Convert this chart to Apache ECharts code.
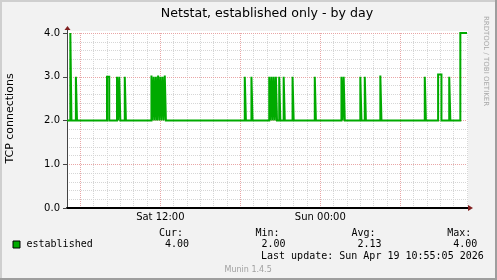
<!DOCTYPE html>
<html><head><meta charset="utf-8">
<script src="https://cdn.jsdelivr.net/npm/echarts@6/dist/echarts.min.js"></script>
<style>html,body{margin:0;padding:0;background:#F2F2F2}#c{width:497px;height:280px}</style>
</head><body><div id="c"></div>
<script>
// ---- data ----
const TITLE = 'Netstat, established only - by day';
const Y_NAME = 'TCP connections';
const SERIES_NAME = 'established';
// change points: minutes since Sat 00:00 (5-minute samples) and the value held from then on
const times = [300, 315, 320, 340, 345, 480, 490,
  525, 530, 535, 540,
  560, 565,
  680, 685, 690, 695, 700, 705, 710, 715, 720, 725, 730, 735, 740, 745,
  1100, 1105, 1130, 1135,
  1210, 1215, 1220, 1225, 1230, 1235, 1240, 1245,
  1255, 1260, 1275, 1280, 1315, 1320, 1415, 1420,
  1535, 1540, 1545, 1550,
  1620, 1625, 1640, 1645, 1710, 1715,
  1910, 1915, 1970, 1985, 2020, 2025, 2070, 2100];
const values = [2, 4, 2, 3, 2, 3, 2,
  3, 2, 3, 2,
  3, 2,
  3.03, 2, 3, 2, 3, 2, 3.03, 2, 3, 2, 3, 2, 3.03, 2,
  3, 2, 3, 2,
  3, 2, 3, 2, 3, 2, 3, 2,
  3, 2, 3, 2, 3, 2, 3, 2,
  3, 2, 3, 2,
  3, 2, 3, 2, 3.03, 2,
  3, 2, 3.05, 2, 3, 2, 4, 4];
const X_MIN = 300, X_MAX = 2100;            // Sat 05:00 .. Sun 11:00
const xLabelValues = [720, 1440];
const xLabelTexts = ['Sat 12:00', 'Sun 00:00'];
const xMajorValues = [360, 720, 1080, 1440, 1800];
const Y_MIN = 0, Y_MAX = 4;
const statLabels = ['Cur:', 'Min:', 'Avg:', 'Max:'];
const statValues = [4.00, 2.00, 2.13, 4.00];
const LAST_UPDATE = 'Last update: Sun Apr 19 10:55:05 2026';
const FOOTER = 'Munin 1.4.5';
const SIDE_TEXT = 'RRDTOOL / TOBI OETIKER';

// ---- style ----
const GREEN = '#00AA00';
const GRAY = '#D6D6D6';
const RED = '#E9A6A6';
const ARROW = '#801F1F';
const SANS = '"DejaVu Sans", sans-serif';
const MONO = '"DejaVu Sans Mono", monospace';

const chart = echarts.init(document.getElementById('c'), null, {renderer: 'canvas'});
const GRID = {left: 67, top: 33, width: 400, height: 175};

chart.setOption({
  animation: false,
  backgroundColor: '#F2F2F2',
  grid: Object.assign({show: false, containLabel: false}, GRID),
  xAxis: [
    {type: 'value', min: X_MIN, max: X_MAX, interval: 60, position: 'bottom', z: 0,
     axisLine: {show: false}, axisTick: {show: false}, axisLabel: {show: false},
     splitLine: {show: true, lineStyle: {color: GRAY, width: 1, type: [1, 1]}}},
    {type: 'value', min: X_MIN, max: X_MAX, position: 'bottom', z: 1,
     axisLine: {show: true, onZero: false, lineStyle: {color: '#000', width: 2}},
     axisTick: {show: false, customValues: xMajorValues},
     axisLabel: {show: true, customValues: xLabelValues, margin: 4,
       formatter: v => xLabelTexts[xLabelValues.indexOf(v)] || '',
       fontFamily: SANS, fontSize: 10, color: '#000'},
     splitLine: {show: true, lineStyle: {color: RED, width: 1, type: [1, 1]}}}
  ],
  yAxis: [
    {type: 'value', min: Y_MIN, max: Y_MAX, interval: 0.2, position: 'left', z: 0,
     axisLine: {show: false}, axisTick: {show: false}, axisLabel: {show: false},
     splitLine: {show: true, lineStyle: {color: GRAY, width: 1, type: [1, 1]}}},
    {type: 'value', min: Y_MIN, max: Y_MAX, interval: 1, position: 'left', z: 1,
     axisLine: {show: true, onZero: false, lineStyle: {color: '#444', width: 1}},
     axisTick: {show: true, length: 4, lineStyle: {color: '#444'}},
     axisLabel: {show: true, margin: 7, formatter: v => v.toFixed(1),
       fontFamily: SANS, fontSize: 10, color: '#000'},
     splitLine: {show: true, lineStyle: {color: RED, width: 1, type: [1, 1]}}}
  ],
  series: [{
    name: SERIES_NAME, type: 'line', xAxisIndex: 1, yAxisIndex: 1,
    step: 'end', showSymbol: false, symbol: 'none', clip: false, z: 3,
    lineStyle: {color: GREEN, width: 2, join: 'miter'},
    data: times.map((t, i) => [t, values[i]])
  }]
});

const o = chart.convertToPixel({xAxisIndex: 1, yAxisIndex: 1}, [X_MIN, Y_MIN]);
const tr = chart.convertToPixel({xAxisIndex: 1, yAxisIndex: 1}, [X_MAX, Y_MAX]);
const W = chart.getWidth(), H = chart.getHeight();

function txt(x, y, text, font, fill, align, valign, extra) {
  return Object.assign({type: 'text', x: x, y: y, silent: true, z: 10,
    style: {text: text, font: font, fill: fill, align: align, textAlign: align,
      verticalAlign: valign, textVerticalAlign: valign}}, extra || {});
}

const statX = [159, 255.5, 351.5, 447.3];
const g = [
  {type: 'rect', z: -1, zlevel: 0, shape: {x: o[0], y: tr[1] - 2, width: tr[0] - o[0] + 1, height: o[1] - tr[1] + 2}, style: {fill: '#FFFFFF'}},
  {type: 'rect', shape: {x: 0, y: 0, width: W, height: 2}, style: {fill: '#CFCFCF'}},
  {type: 'rect', shape: {x: 0, y: 0, width: 2, height: H}, style: {fill: '#CFCFCF'}},
  {type: 'rect', shape: {x: 0, y: H - 2, width: W, height: 2}, style: {fill: '#9E9E9E'}},
  {type: 'rect', shape: {x: W - 2, y: 0, width: 2, height: H}, style: {fill: '#9E9E9E'}},
  // axis extensions and arrows
  {type: 'line', z: 5, shape: {x1: o[0] + 0.5, y1: tr[1], x2: o[0] + 0.5, y2: tr[1] - 4}, style: {stroke: '#444', lineWidth: 1}},
  {type: 'polygon', z: 5, shape: {points: [[o[0] - 2.5, tr[1] - 3], [o[0] + 3.5, tr[1] - 3], [o[0] + 0.5, tr[1] - 7]]}, style: {fill: ARROW}},
  {type: 'line', z: 5, shape: {x1: tr[0], y1: o[1], x2: tr[0] + 2, y2: o[1]}, style: {stroke: '#000', lineWidth: 2}},
  {type: 'polygon', z: 5, shape: {points: [[tr[0] + 1, o[1] - 3], [tr[0] + 1, o[1] + 3], [tr[0] + 6, o[1]]]}, style: {fill: ARROW}},
  // title & axis name
  txt((o[0] + tr[0]) / 2, 14, TITLE, '12.6px ' + SANS, '#000', 'center', 'middle'),
  txt(10, (o[1] + tr[1]) / 2 - 2, Y_NAME, '11px ' + SANS, '#000', 'center', 'middle', {rotation: Math.PI / 2}),
  txt(486, 61, SIDE_TEXT, '7px ' + SANS, '#A8A8A8', 'center', 'middle', {rotation: -Math.PI / 2}),
  // legend
  {type: 'rect', z: 10, shape: {x: 13, y: 241, width: 7, height: 7}, style: {fill: GREEN, stroke: '#000', lineWidth: 1}},
  txt(26.5, 244.5, SERIES_NAME, '10px ' + MONO, '#000', 'left', 'middle'),
  txt(261, 256.5, LAST_UPDATE, '10px ' + MONO, '#000', 'left', 'middle'),
  txt(224.5, 269.5, FOOTER, '8px ' + SANS, '#A0A0A0', 'left', 'middle')
];
statLabels.forEach((s, i) => {
  g.push(txt(statX[i], 233, s, '10px ' + MONO, '#000', 'left', 'middle'));
  g.push(txt(statX[i] + 6, 244.5, statValues[i].toFixed(2), '10px ' + MONO, '#000', 'left', 'middle'));
});
chart.setOption({graphic: g});
</script>
</body></html>
